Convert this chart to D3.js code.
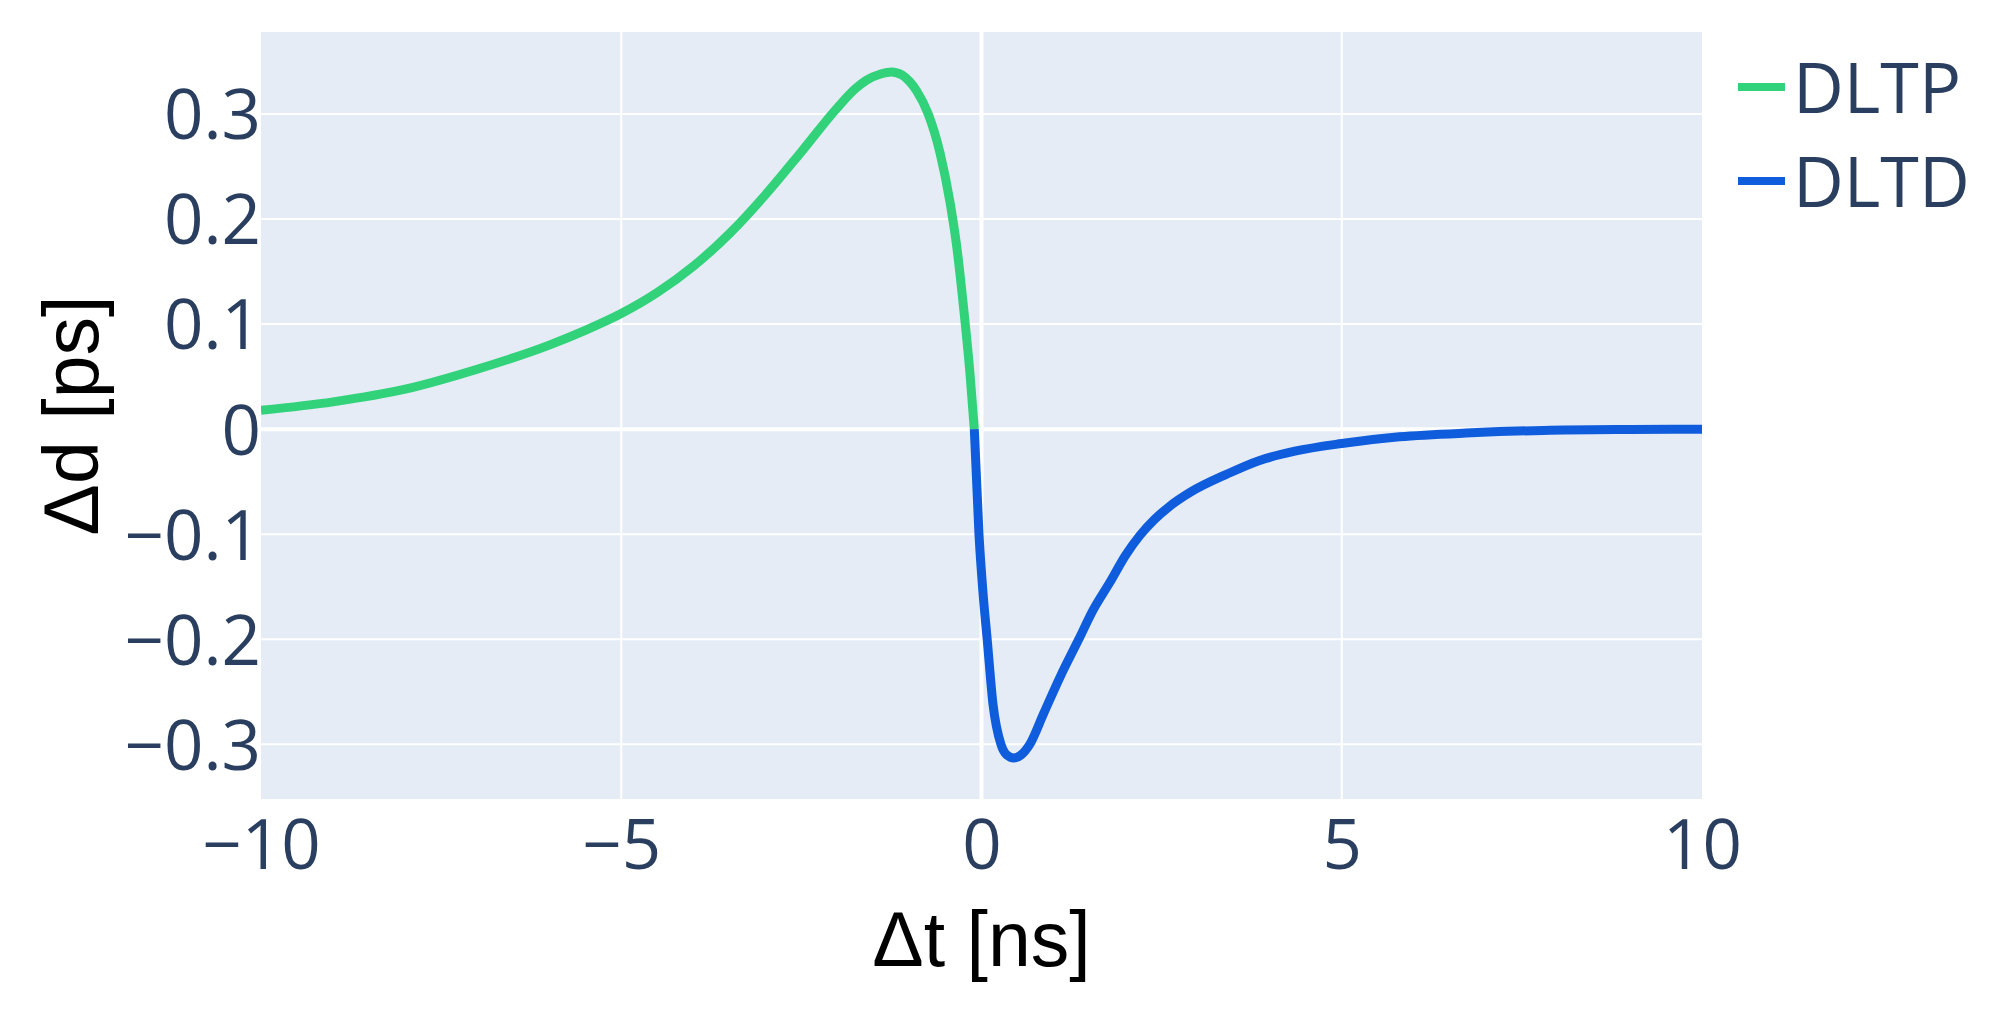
<!DOCTYPE html>
<html>
<head>
<meta charset="utf-8">
<script src="https://cdn.jsdelivr.net/npm/d3@7"></script>
<style>
  html, body { margin: 0; padding: 0; background: #fff; }
  svg { display: block; }
</style>
</head>
<body>
<svg id="chart" width="2000" height="1018"></svg>
<script>
// ---- data ----
const seriesNames = ["DLTP", "DLTD"];
const seriesColors = ["#32d27a", "#0f5ddc"];

const dltpX = [-10, -9, -8, -7, -6, -5.5, -5, -4.5, -4, -3.5, -3, -2.5, -2, -1.75, -1.6, -1.4, -1.25, -1.1, -1.0, -0.9, -0.74, -0.576, -0.437, -0.344, -0.25, -0.16, -0.1];
const dltpY = [0.018, 0.026, 0.038, 0.057, 0.080, 0.094, 0.110, 0.130, 0.155, 0.186, 0.223, 0.264, 0.306, 0.324, 0.332, 0.338, 0.340, 0.337, 0.331, 0.322, 0.300, 0.263, 0.216, 0.174, 0.1165, 0.053, 0.0];

const dltdX = [-0.1, -0.035, 0.02, 0.079, 0.16, 0.27, 0.35, 0.45, 0.55, 0.67, 0.86, 1.09, 1.35, 1.55, 1.78, 2.0, 2.2, 2.4, 2.6, 2.9, 3.4, 3.85, 4.35, 5.0, 5.8, 6.8, 7.8, 9.0, 10];
const dltdY = [0.0, -0.1, -0.155, -0.2, -0.262, -0.3, -0.31, -0.313, -0.31, -0.3, -0.271, -0.236, -0.2, -0.172, -0.146, -0.120, -0.101, -0.086, -0.074, -0.060, -0.043, -0.030, -0.021, -0.0137, -0.0073, -0.0035, -0.0012, -0.0003, 0.0];

const xTicks = [-10, -5, 0, 5, 10];
const yTicks = [-0.3, -0.2, -0.1, 0, 0.1, 0.2, 0.3];
const xTitle = "Δt [ns]";
const yTitle = "Δd [ps]";

// ---- layout ----
const svg = d3.select("#chart");
const plot = { left: 261, right: 1702, top: 32, bottom: 799 };

const x = d3.scaleLinear().domain([-10, 10]).range([plot.left, plot.right]);
const y = d3.scaleLinear().domain([-0.352, 0.378]).range([plot.bottom, plot.top]);

const tickFont = "'Open Sans', 'Noto Sans', sans-serif";
const tickColor = "#2a3f5f";
const tickSize = 69;

svg.append("rect")
  .attr("x", plot.left).attr("y", plot.top)
  .attr("width", plot.right - plot.left).attr("height", plot.bottom - plot.top)
  .attr("fill", "#e5ecf6");

// grid lines
const grid = svg.append("g");
grid.selectAll("line.gx").data(xTicks.filter(d => d !== 0 && d !== -10 && d !== 10)).join("line")
  .attr("x1", d => x(d)).attr("x2", d => x(d))
  .attr("y1", plot.top).attr("y2", plot.bottom)
  .attr("stroke", "#fff").attr("stroke-width", 2);
grid.selectAll("line.gy").data(yTicks.filter(d => d !== 0)).join("line")
  .attr("x1", plot.left).attr("x2", plot.right)
  .attr("y1", d => y(d)).attr("y2", d => y(d))
  .attr("stroke", "#fff").attr("stroke-width", 2);
// zero lines
grid.append("line")
  .attr("x1", x(0)).attr("x2", x(0)).attr("y1", plot.top).attr("y2", plot.bottom)
  .attr("stroke", "#fff").attr("stroke-width", 4);
grid.append("line")
  .attr("x1", plot.left).attr("x2", plot.right).attr("y1", y(0)).attr("y2", y(0))
  .attr("stroke", "#fff").attr("stroke-width", 4);

// axes (labels only)
const fmt = d => (d < 0 ? "\u2212" : "") + String(Math.abs(d));
const xAxis = d3.axisBottom(x).tickValues(xTicks).tickSize(0).tickPadding(0).tickFormat(fmt);
const gx = svg.append("g").attr("transform", `translate(0,${plot.bottom})`).call(xAxis);
gx.select(".domain").remove();
gx.selectAll("text")
  .attr("y", 70).attr("dy", 0)
  .attr("font-family", tickFont).attr("font-size", tickSize).attr("fill", tickColor);

const yAxis = d3.axisLeft(y).tickValues(yTicks).tickSize(0).tickPadding(0).tickFormat(fmt);
const gy = svg.append("g").attr("transform", `translate(${plot.left},0)`).call(yAxis);
gy.select(".domain").remove();
gy.selectAll("text")
  .attr("x", 0).attr("dy", "0.36em")
  .attr("font-family", tickFont).attr("font-size", tickSize).attr("fill", tickColor);

// lines
svg.append("clipPath").attr("id", "clip").append("rect")
  .attr("x", plot.left).attr("y", plot.top)
  .attr("width", plot.right - plot.left).attr("height", plot.bottom - plot.top);

const line = d3.line().x(d => x(d[0])).y(d => y(d[1])).curve(d3.curveMonotoneX);
const series = [
  d3.zip(dltpX, dltpY),
  d3.zip(dltdX, dltdY)
];
svg.append("g").attr("clip-path", "url(#clip)")
  .selectAll("path").data(series).join("path")
  .attr("d", d => line(d))
  .attr("fill", "none")
  .attr("stroke", (d, i) => seriesColors[i])
  .attr("stroke-width", 9)
  .attr("stroke-linejoin", "round");

// axis titles
const titleFont = "'Liberation Sans', Arial, sans-serif";
svg.append("text")
  .attr("x", (plot.left + plot.right) / 2).attr("y", 966)
  .attr("text-anchor", "middle")
  .attr("font-family", titleFont).attr("font-size", 77).attr("fill", "#000")
  .text(xTitle);
svg.append("text")
  .attr("transform", `translate(98,${(plot.top + plot.bottom) / 2}) rotate(-90)`)
  .attr("text-anchor", "middle")
  .attr("font-family", titleFont).attr("font-size", 77).attr("fill", "#000")
  .text(yTitle);

// legend
const legend = svg.append("g");
seriesNames.forEach((name, i) => {
  const cy = 87 + i * 94;
  legend.append("line")
    .attr("x1", 1738).attr("x2", 1785).attr("y1", cy).attr("y2", cy)
    .attr("stroke", seriesColors[i]).attr("stroke-width", 8);
  legend.append("text")
    .attr("x", 1793).attr("y", cy + 26)
    .attr("font-family", tickFont).attr("font-size", 70).attr("fill", tickColor)
    .text(name);
});
</script>
</body>
</html>
